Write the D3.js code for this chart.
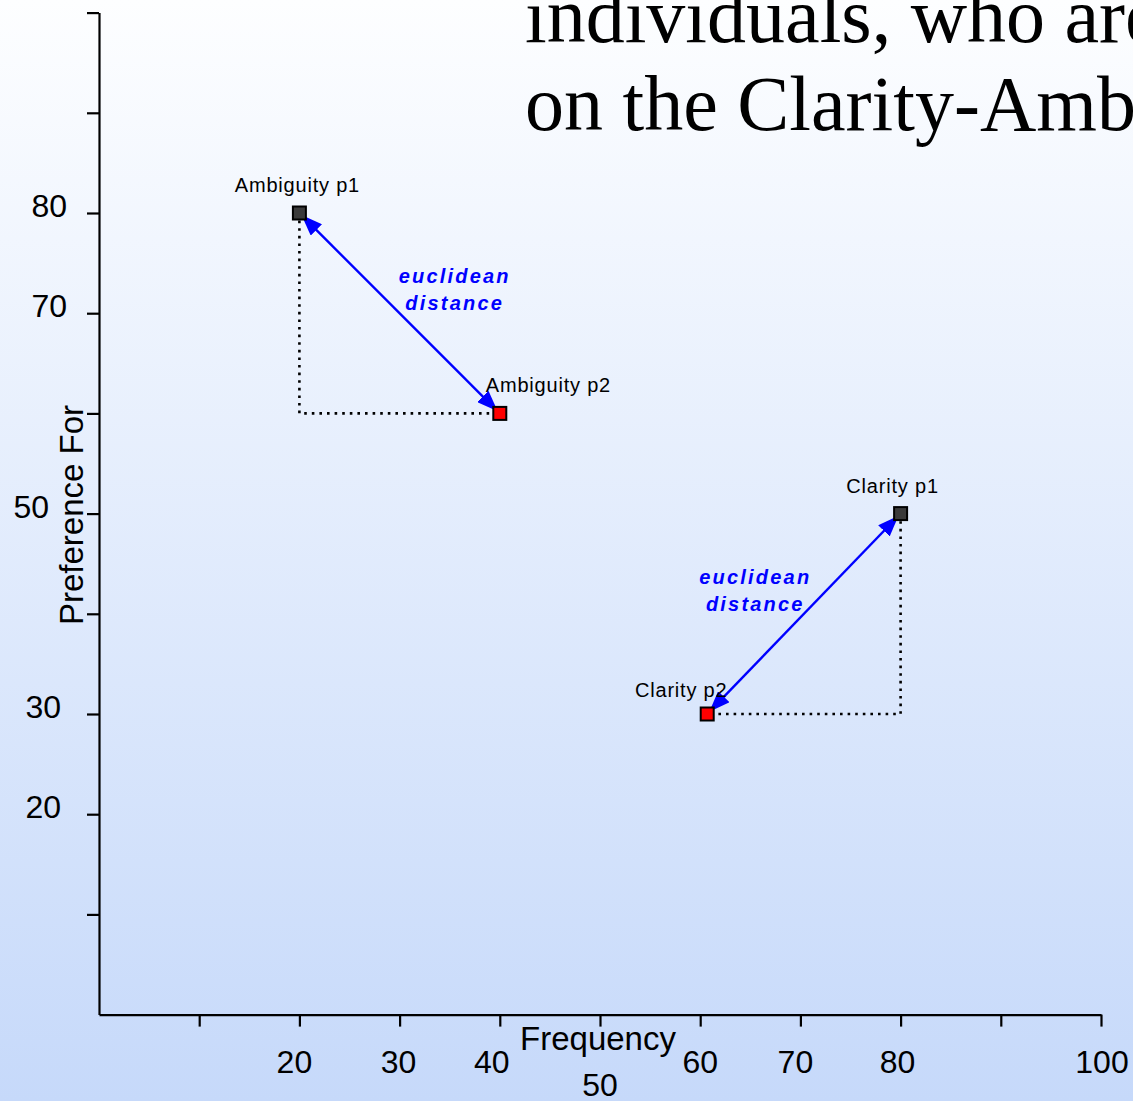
<!DOCTYPE html>
<html>
<head>
<meta charset="utf-8">
<script src="https://cdn.jsdelivr.net/npm/d3@7"></script>
<style>
  html, body { margin: 0; padding: 0; overflow: hidden; }
  svg { display: block; }
</style>
</head>
<body>
<svg id="chart" width="1133" height="1101"></svg>
<script>
// Points in the Frequency / Preference plane
const pointNames = ["Ambiguity p1", "Ambiguity p2", "Clarity p1", "Clarity p2"];
const pointX = [20, 40, 80, 60.7];
const pointY = [80, 60, 50, 30];
const pointKind = ["p1", "p2", "p1", "p2"];

// Pairs joined by a distance arrow and a right-angle of dotted legs
const pairs = [[0, 1], [2, 3]];
const distanceLabel = ["euclidean", "distance"];
const distanceLabelX = [35.5, 65.5];
const distanceLabelY = [73, 43];

// Axes
const axisDomain = [0, 100];
const tickValues = [10, 20, 30, 40, 50, 60, 70, 80, 90, 100];
const xTickLabels = [20, 30, 40, 50, 60, 70, 80, 100];
const yTickLabels = [80, 70, 50, 30, 20];
const xTitle = "Frequency";
const yTitle = "Preference For";
const titleLines = ["individuals, who are", "on the Clarity-Ambiguity"];

const W = 1133, H = 1101;
const svg = d3.select("#chart");

const x = d3.scaleLinear().domain(axisDomain).range([99, 1101]);
const y = d3.scaleLinear().domain(axisDomain).range([1014.6, 12.6]);

// Background wash
const defs = svg.append("defs");
const grad = defs.append("linearGradient")
  .attr("id", "bg").attr("x1", 0).attr("y1", 0).attr("x2", 0).attr("y2", 1);
grad.append("stop").attr("offset", "0%").attr("stop-color", "#fdfeff");
grad.append("stop").attr("offset", "100%").attr("stop-color", "#c6d9fa");
svg.append("rect").attr("width", W).attr("height", H).attr("fill", "url(#bg)");

// Arrowhead
defs.append("marker")
  .attr("id", "head")
  .attr("viewBox", "0 0 21 16")
  .attr("refX", 21).attr("refY", 8)
  .attr("markerWidth", 21).attr("markerHeight", 16)
  .attr("markerUnits", "userSpaceOnUse")
  .attr("orient", "auto-start-reverse")
  .append("path")
  .attr("d", "M0,0 L21,8 L0,16 Z")
  .attr("fill", "#0000ff");

// Slide heading, running off the right edge
const title = svg.append("g")
  .attr("font-family", "'Liberation Serif', 'Times New Roman', serif")
  .attr("font-size", 78)
  .attr("fill", "#000");
title.selectAll("text").data(titleLines).join("text")
  .attr("x", 525)
  .attr("y", (d, i) => 42 + i * 88)
  .text(d => d);

// Axes
const labelFont = "'Liberation Sans', Arial, sans-serif";

const yAxis = svg.append("g")
  .attr("transform", `translate(${x(0)},0)`)
  .call(d3.axisLeft(y).tickValues(tickValues).tickSize(12).tickSizeOuter(0).tickFormat(""));
const xAxis = svg.append("g")
  .attr("transform", `translate(0,${y(0)})`)
  .call(d3.axisBottom(x).tickValues(tickValues).tickSize(12).tickSizeOuter(0).tickFormat(""));
[yAxis, xAxis].forEach(g => {
  g.select(".domain").attr("stroke", "#000").attr("stroke-width", 2.2);
  g.selectAll(".tick line").attr("stroke", "#000").attr("stroke-width", 2.2);
});

// Tick labels (a few are nudged off their tick like the hand-set originals)
const yLabelRight = { 80: 67, 70: 67, 50: 49, 30: 61, 20: 61 };
svg.append("g")
  .attr("font-family", labelFont).attr("font-size", 32).attr("fill", "#000")
  .attr("text-anchor", "end")
  .selectAll("text").data(yTickLabels).join("text")
  .attr("x", d => yLabelRight[d])
  .attr("y", d => y(d) + 4)
  .text(d => d);

const xLabelShift = { 20: -5, 30: -1, 40: -8, 50: 0, 60: 0, 70: -5, 80: -3, 100: 1 };
svg.append("g")
  .attr("font-family", labelFont).attr("font-size", 32).attr("fill", "#000")
  .attr("text-anchor", "middle")
  .selectAll("text").data(xTickLabels).join("text")
  .attr("x", d => x(d) + xLabelShift[d])
  .attr("y", d => d === 50 ? 1096 : 1073)
  .text(d => d);

svg.append("text")
  .attr("font-family", labelFont).attr("font-size", 33).attr("fill", "#000")
  .attr("text-anchor", "middle")
  .attr("x", 598).attr("y", 1050)
  .text(xTitle);

svg.append("text")
  .attr("font-family", labelFont).attr("font-size", 33).attr("fill", "#000")
  .attr("text-anchor", "middle")
  .attr("transform", "translate(83,515) rotate(-90)")
  .text(yTitle);

// Dotted legs of each right triangle
const legs = svg.append("g")
  .attr("stroke", "#000").attr("stroke-width", 2.6)
  .attr("stroke-dasharray", "2.6,5").attr("fill", "none");
pairs.forEach(([a, b]) => {
  // corner sits below the higher point, level with the lower one
  const hi = pointY[a] > pointY[b] ? a : b;
  const lo = hi === a ? b : a;
  const cx = x(pointX[hi]), cy = y(pointY[lo]);
  legs.append("path")
    .attr("d", `M${x(pointX[hi])},${y(pointY[hi])} L${cx},${cy} L${x(pointX[lo])},${cy}`);
});

// Double-headed distance arrows
const arrows = svg.append("g");
pairs.forEach(([a, b]) => {
  const x1 = x(pointX[a]), y1 = y(pointY[a]);
  const x2 = x(pointX[b]), y2 = y(pointY[b]);
  const len = Math.hypot(x2 - x1, y2 - y1);
  const ux = (x2 - x1) / len, uy = (y2 - y1) / len;
  const gap = 3;
  arrows.append("line")
    .attr("x1", x1 + ux * gap).attr("y1", y1 + uy * gap)
    .attr("x2", x2 - ux * gap).attr("y2", y2 - uy * gap)
    .attr("stroke", "#0000ff").attr("stroke-width", 2.4)
    .attr("marker-start", "url(#head)")
    .attr("marker-end", "url(#head)");
});

// "euclidean distance" captions
const cap = svg.append("g")
  .attr("font-family", labelFont).attr("font-size", 20)
  .attr("font-weight", "bold").attr("font-style", "italic")
  .attr("letter-spacing", 2.2).attr("fill", "#0000ff")
  .attr("text-anchor", "middle");
pairs.forEach((p, i) => {
  distanceLabel.forEach((t, j) => {
    cap.append("text")
      .attr("x", x(distanceLabelX[i]))
      .attr("y", y(distanceLabelY[i]) + j * 27)
      .text(t);
  });
});

// Point markers
const fillFor = { p1: "#3a3a3a", p2: "#ff0000" };
svg.append("g").selectAll("rect").data(pointNames).join("rect")
  .attr("x", (d, i) => x(pointX[i]) - 6.5)
  .attr("y", (d, i) => y(pointY[i]) - 6.5)
  .attr("width", 13).attr("height", 13)
  .attr("fill", (d, i) => fillFor[pointKind[i]])
  .attr("stroke", "#000").attr("stroke-width", 2);

// Point names
const nameDx = [-2, -14, -8, -26];
const nameAnchor = ["middle", "start", "middle", "middle"];
const nameDy = [-21, -21, -21, -17];
svg.append("g")
  .attr("font-family", labelFont).attr("font-size", 20)
  .attr("letter-spacing", 0.8).attr("fill", "#000")
  .selectAll("text").data(pointNames).join("text")
  .attr("x", (d, i) => x(pointX[i]) + nameDx[i])
  .attr("y", (d, i) => y(pointY[i]) + nameDy[i])
  .attr("text-anchor", (d, i) => nameAnchor[i])
  .text(d => d);
</script>
</body>
</html>
